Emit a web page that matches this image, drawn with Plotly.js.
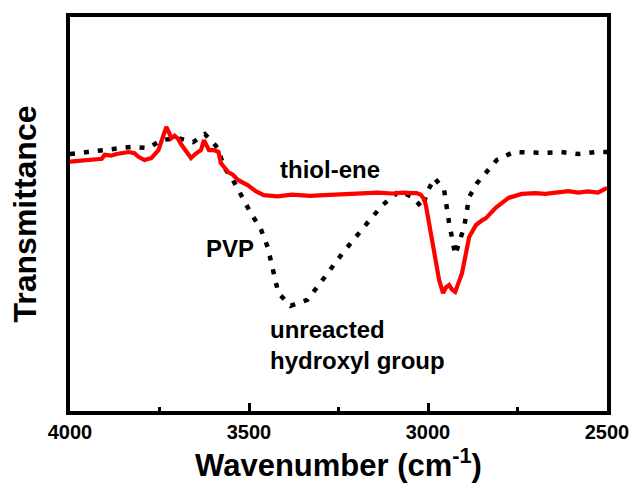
<!DOCTYPE html>
<html>
<head>
<meta charset="utf-8">
<script src="https://cdn.plot.ly/plotly-3.0.1.min.js"></script>
<style>html,body{margin:0;padding:0;background:#fff;}#chart{width:636px;height:489px;}</style>
</head>
<body>
<div id="chart"></div>
<script>
// Thiol-ene (red solid) spectrum
const thiolWavenumber = [4000,3960,3930,3911,3903,3885,3870,3855,3836,3820,3809,3792,3773,3753,3739,3731,3723,3717,3708,3698,3690,3681,3662,3650,3642,3634,3626,3618,3612,3598,3585,3579,3559,3545,3531,3504,3480,3459,3420,3380,3329,3290,3260,3220,3182,3140,3100,3070,3043,3032,3020,3010,3005,2988,2969,2958,2950,2941,2933,2924,2905,2885,2866,2850,2838,2811,2775,2738,2700,2672,2640,2608,2580,2553,2525,2500];
const thiolValue = [63.1,63.3,63.6,63.8,64.8,64.6,65.0,65.2,65.5,65.2,64.3,63.5,64.0,66.0,69.8,71.8,70.3,69.0,69.6,68.8,67.5,66.5,64.0,65.0,65.5,66.0,68.5,67.0,66.0,66.0,65.5,62.8,60.5,59.8,58.5,57.2,55.6,54.7,54.4,54.8,54.5,54.7,54.8,54.9,55.2,55.3,55.1,55.3,55.2,55.2,54.8,53.5,51.7,43.4,33.4,30.1,31.5,32.1,31.0,30.4,35.1,44.2,47.2,48.3,48.9,51.5,54.0,55.0,55.2,55.0,55.4,55.7,55.3,55.6,55.3,56.5];
// PVP (black dotted) spectrum
const pvpWavenumber = [4000,3903,3828,3781,3745,3698,3656,3623,3587,3570,3545,3495,3468,3448,3418,3384,3337,3301,3238,3163,3127,3080,3043,3016,3002,2982,2955,2941,2924,2899,2885,2863,2835,2808,2761,2719,2672,2628,2580,2533,2500];
const pvpValue = [65.0,66.0,66.8,66.5,68.5,69.0,68.0,70.0,66.5,61.7,58.5,50.2,46.4,41.7,30.1,26.9,28.4,32.6,40.2,48.4,52.2,55.7,54.2,51.5,55.5,59.0,56.0,47.7,39.7,46.7,54.2,57.7,60.5,63.5,65.5,65.3,65.3,65.5,65.0,65.5,65.5];
const xTickValues = [4000,3500,3000,2500];
const xTickLabels = ["4000","3500","3000","2500"];
const labels = {thiol:"thiol-ene", pvp:"PVP", hydroxyl:"unreacted<br>hydroxyl group"};

const FONT = "'Liberation Sans', Arial, Helvetica, sans-serif";

const traces = [
  {x: pvpWavenumber, y: pvpValue, type:'scatter', mode:'lines', name:'PVP',
   line:{color:'#000000', width:4.5, dash:'5px,9px'}, hoverinfo:'skip'},
  {x: thiolWavenumber, y: thiolValue, type:'scatter', mode:'lines', name:'thiol-ene',
   line:{color:'#ff0000', width:4.2}, hoverinfo:'skip'}
];

const annFont = {family:FONT, size:24, color:'#000'};

const layout = {
  width:636, height:489,
  margin:{l:70, r:29, t:17, b:78},
  paper_bgcolor:'#ffffff', plot_bgcolor:'#ffffff',
  showlegend:false,
  font:{family:FONT, color:'#000', size:20},
  xaxis:{
    range:[4000,2500], tickvals:xTickValues, ticktext:xTickLabels.map(t => '<b>' + t + '</b>'),
    ticks:'inside', ticklen:8, tickwidth:3, tickcolor:'#000',
    minor:{dtick:250, tick0:2500, ticks:'inside', ticklen:4, tickwidth:3, tickcolor:'#000'},
    showline:true, linewidth:4, linecolor:'#000', mirror:true,
    showgrid:false, zeroline:false,
    tickfont:{family:FONT, size:20, color:'#000'},
    title:{text:'<b>Wavenumber (cm<sup>-1</sup>)</b>', font:{family:FONT, size:31, color:'#000'}, standoff:8}
  },
  yaxis:{
    range:[0.5,99.4], showticklabels:false, ticks:'',
    showline:true, linewidth:4, linecolor:'#000', mirror:true,
    showgrid:false, zeroline:false,
    title:{text:'<b>Transmittance</b>', font:{family:FONT, size:32, color:'#000'}, standoff:21}
  },
  annotations:[
    {x:3274, y:61.2, xref:'x', yref:'y', text:'<b>' + labels.thiol + '</b>', showarrow:false, font:annFont},
    {x:3553, y:41.2, xref:'x', yref:'y', text:'<b>' + labels.pvp + '</b>', showarrow:false, font:annFont},
    {x:3446, y:17.0, xref:'x', yref:'y', text:'<b>' + labels.hydroxyl + '</b>', showarrow:false, align:'left',
     xanchor:'left', font:annFont}
  ]
};

Plotly.newPlot('chart', traces, layout, {staticPlot:true, displayModeBar:false});
</script>
</body>
</html>
